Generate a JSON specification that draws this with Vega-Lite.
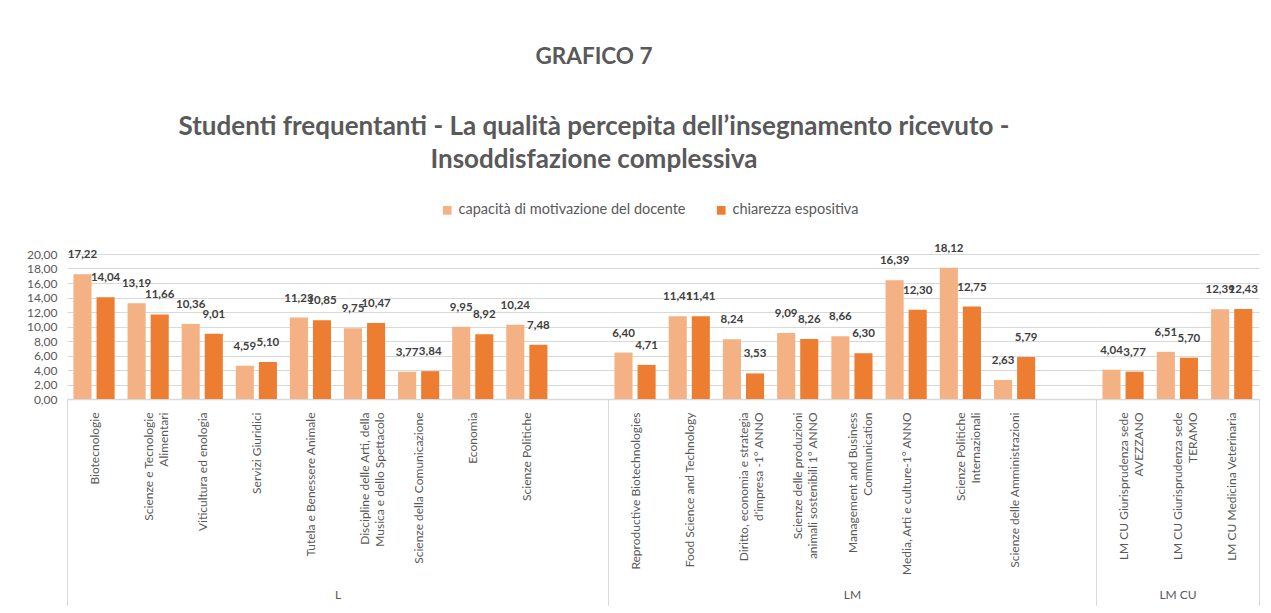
{
  "$schema": "https://vega.github.io/schema/vega-lite/v6.json",
  "background": "white",
  "padding": {"left": 26, "top": 45, "right": 10, "bottom": 5},
  "bounds": "flush",
  "spacing": 0,
  "title": {
    "text": "GRAFICO 7",
    "subtitle": ["Studenti frequentanti - La qualità percepita dell’insegnamento ricevuto -", "Insoddisfazione complessiva"],
    "font": "Lato", "fontSize": 22.5, "fontWeight": "bold", "color": "#595959",
    "subtitleFont": "Lato", "subtitleFontSize": 26, "subtitleFontWeight": "bold", "subtitleColor": "#595959",
    "subtitleLineHeight": 33, "subtitlePadding": 46,
    "anchor": "start", "align": "center", "frame": "group", "dx": 527, "offset": 30
  },
  "config": {
    "locale": {"number": {"decimal": ",", "thousands": ".", "grouping": [3], "currency": ["", " €"]}},
    "font": "Lato",
    "view": {"stroke": null},
    "legend": {
      "orient": "none", "legendX": 373, "legendY": -51, "direction": "horizontal",
      "labelFont": "Lato", "labelFontSize": 14.5, "labelColor": "#595959", "labelLimit": 400,
      "symbolType": "square", "symbolSize": 75, "symbolStrokeWidth": 0,
      "columnPadding": 28, "labelOffset": 4, "padding": 0
    }
  },
  "datasets": {
    "rows": [
      {"group": "L", "cat": "Biotecnologie", "series": "capacità di motivazione del docente", "value": 17.22},
      {"group": "L", "cat": "Biotecnologie", "series": "chiarezza espositiva", "value": 14.04},
      {"group": "L", "cat": "Scienze e Tecnologie|Alimentari", "series": "capacità di motivazione del docente", "value": 13.19},
      {"group": "L", "cat": "Scienze e Tecnologie|Alimentari", "series": "chiarezza espositiva", "value": 11.66},
      {"group": "L", "cat": "Viticultura ed enologia", "series": "capacità di motivazione del docente", "value": 10.36},
      {"group": "L", "cat": "Viticultura ed enologia", "series": "chiarezza espositiva", "value": 9.01},
      {"group": "L", "cat": "Servizi  Giuridici", "series": "capacità di motivazione del docente", "value": 4.59},
      {"group": "L", "cat": "Servizi  Giuridici", "series": "chiarezza espositiva", "value": 5.10},
      {"group": "L", "cat": "Tutela e Benessere Animale", "series": "capacità di motivazione del docente", "value": 11.23},
      {"group": "L", "cat": "Tutela e Benessere Animale", "series": "chiarezza espositiva", "value": 10.85},
      {"group": "L", "cat": "Discipline delle Arti, della|Musica e dello Spettacolo", "series": "capacità di motivazione del docente", "value": 9.75},
      {"group": "L", "cat": "Discipline delle Arti, della|Musica e dello Spettacolo", "series": "chiarezza espositiva", "value": 10.47},
      {"group": "L", "cat": "Scienze della Comunicazione", "series": "capacità di motivazione del docente", "value": 3.77},
      {"group": "L", "cat": "Scienze della Comunicazione", "series": "chiarezza espositiva", "value": 3.84},
      {"group": "L", "cat": "Economia", "series": "capacità di motivazione del docente", "value": 9.95},
      {"group": "L", "cat": "Economia", "series": "chiarezza espositiva", "value": 8.92},
      {"group": "L", "cat": "Scienze Politiche", "series": "capacità di motivazione del docente", "value": 10.24},
      {"group": "L", "cat": "Scienze Politiche", "series": "chiarezza espositiva", "value": 7.48},
      {"group": "LM", "cat": "Reproductive Biotechnologies", "series": "capacità di motivazione del docente", "value": 6.40},
      {"group": "LM", "cat": "Reproductive Biotechnologies", "series": "chiarezza espositiva", "value": 4.71},
      {"group": "LM", "cat": "Food Science and Technology", "series": "capacità di motivazione del docente", "value": 11.41},
      {"group": "LM", "cat": "Food Science and Technology", "series": "chiarezza espositiva", "value": 11.41},
      {"group": "LM", "cat": "Diritto, economia e strategia|d'impresa -1° ANNO", "series": "capacità di motivazione del docente", "value": 8.24},
      {"group": "LM", "cat": "Diritto, economia e strategia|d'impresa -1° ANNO", "series": "chiarezza espositiva", "value": 3.53},
      {"group": "LM", "cat": "Scienze delle produzioni|animali sostenibili 1° ANNO", "series": "capacità di motivazione del docente", "value": 9.09},
      {"group": "LM", "cat": "Scienze delle produzioni|animali sostenibili 1° ANNO", "series": "chiarezza espositiva", "value": 8.26},
      {"group": "LM", "cat": "Management and Business|Communication", "series": "capacità di motivazione del docente", "value": 8.66},
      {"group": "LM", "cat": "Management and Business|Communication", "series": "chiarezza espositiva", "value": 6.30},
      {"group": "LM", "cat": "Media, Arti e culture-1° ANNO", "series": "capacità di motivazione del docente", "value": 16.39},
      {"group": "LM", "cat": "Media, Arti e culture-1° ANNO", "series": "chiarezza espositiva", "value": 12.30},
      {"group": "LM", "cat": "Scienze Politiche|Internazionali", "series": "capacità di motivazione del docente", "value": 18.12},
      {"group": "LM", "cat": "Scienze Politiche|Internazionali", "series": "chiarezza espositiva", "value": 12.75},
      {"group": "LM", "cat": "Scienze delle Amministrazioni", "series": "capacità di motivazione del docente", "value": 2.63},
      {"group": "LM", "cat": "Scienze delle Amministrazioni", "series": "chiarezza espositiva", "value": 5.79},
      {"group": "LM CU", "cat": "LM CU  Giurisprudenza sede|AVEZZANO", "series": "capacità di motivazione del docente", "value": 4.04},
      {"group": "LM CU", "cat": "LM CU  Giurisprudenza sede|AVEZZANO", "series": "chiarezza espositiva", "value": 3.77},
      {"group": "LM CU", "cat": "LM CU Giurisprudenza  sede|TERAMO", "series": "capacità di motivazione del docente", "value": 6.51},
      {"group": "LM CU", "cat": "LM CU Giurisprudenza  sede|TERAMO", "series": "chiarezza espositiva", "value": 5.70},
      {"group": "LM CU", "cat": "LM CU Medicina Veterinaria", "series": "capacità di motivazione del docente", "value": 12.39},
      {"group": "LM CU", "cat": "LM CU Medicina Veterinaria", "series": "chiarezza espositiva", "value": 12.43}
    ]
  },
  "resolve": {"scale": {"color": "shared"}, "legend": {"color": "shared"}},
  "hconcat": [
    {
      "width": 541, "height": 145,
      "data": {"name": "rows"},
      "transform": [{"filter": "datum.group === 'L'"}],
      "encoding": {
        "x": {
          "field": "cat", "type": "nominal",
          "scale": {"domain": ["Biotecnologie", "Scienze e Tecnologie|Alimentari", "Viticultura ed enologia", "Servizi  Giuridici", "Tutela e Benessere Animale", "Discipline delle Arti, della|Musica e dello Spettacolo", "Scienze della Comunicazione", "Economia", "Scienze Politiche", " "], "paddingInner": 0, "paddingOuter": 0},
          "axis": {
            "title": "L", "titleY": 195, "titleBaseline": "middle", "titleFont": "Lato", "titleFontSize": 12, "titleFontWeight": "normal", "titleColor": "#595959",
            "labelAngle": -90, "labelExpr": "split(datum.label, '|')", "labelFont": "Lato", "labelFontSize": 12, "labelColor": "#595959", "labelLineHeight": 15, "labelPadding": -193, "labelLimit": 300,
            "domainColor": "#d9d9d9", "domainWidth": 1.5,
            "ticks": true, "tickBand": "extent", "tickSize": 206, "tickColor": "#d9d9d9", "tickWidth": 1,
            "tickOpacity": {"condition": {"test": "datum.index === -1 || datum.index === 1", "value": 1}, "value": 0}
          }
        },
        "xOffset": {"field": "series", "type": "nominal", "sort": ["capacità di motivazione del docente", "chiarezza espositiva"], "scale": {"paddingInner": 0.217, "paddingOuter": 0.28}},
        "y": {
          "field": "value", "type": "quantitative",
          "scale": {"domain": [0, 20]},
          "axis": {"title": null, "values": [0, 2, 4, 6, 8, 10, 12, 14, 16, 18, 20], "format": ".2f", "grid": true, "gridColor": "#d9d9d9", "gridWidth": 1, "domain": false, "ticks": false, "labelFont": "Lato", "labelFontSize": 12, "labelColor": "#595959", "labelPadding": 10}
        }
      },
      "layer": [
        {"mark": {"type": "bar"}, "encoding": {"color": {"field": "series", "type": "nominal", "scale": {"domain": ["capacità di motivazione del docente", "chiarezza espositiva"], "range": ["#F4B183", "#ED7D31"]}, "legend": {"title": null}}}},
        {"mark": {"type": "text", "dy": -19, "baseline": "middle", "font": "Lato", "fontWeight": "bold", "fontSize": 11.5, "color": "#404040"}, "encoding": {"text": {"field": "value", "type": "quantitative", "format": ".2f"}}}
      ]
    },
    {
      "width": 488, "height": 145,
      "data": {"name": "rows"},
      "transform": [{"filter": "datum.group === 'LM'"}],
      "encoding": {
        "x": {
          "field": "cat", "type": "nominal",
          "scale": {"domain": ["Reproductive Biotechnologies", "Food Science and Technology", "Diritto, economia e strategia|d'impresa -1° ANNO", "Scienze delle produzioni|animali sostenibili 1° ANNO", "Management and Business|Communication", "Media, Arti e culture-1° ANNO", "Scienze Politiche|Internazionali", "Scienze delle Amministrazioni", " "], "paddingInner": 0, "paddingOuter": 0},
          "axis": {
            "title": "LM", "titleY": 195, "titleBaseline": "middle", "titleFont": "Lato", "titleFontSize": 12, "titleFontWeight": "normal", "titleColor": "#595959",
            "labelAngle": -90, "labelExpr": "split(datum.label, '|')", "labelFont": "Lato", "labelFontSize": 12, "labelColor": "#595959", "labelLineHeight": 15, "labelPadding": -193, "labelLimit": 300,
            "domainColor": "#d9d9d9", "domainWidth": 1.5,
            "ticks": true, "tickBand": "extent", "tickSize": 206, "tickColor": "#d9d9d9", "tickWidth": 1,
            "tickOpacity": {"condition": {"test": "datum.index === -1 || datum.index === 1", "value": 1}, "value": 0}
          }
        },
        "xOffset": {"field": "series", "type": "nominal", "sort": ["capacità di motivazione del docente", "chiarezza espositiva"], "scale": {"paddingInner": 0.217, "paddingOuter": 0.28}},
        "y": {
          "field": "value", "type": "quantitative",
          "scale": {"domain": [0, 20]},
          "axis": {"title": null, "values": [0, 2, 4, 6, 8, 10, 12, 14, 16, 18, 20], "grid": true, "gridColor": "#d9d9d9", "gridWidth": 1, "domain": false, "ticks": false, "labels": false}
        }
      },
      "layer": [
        {"mark": {"type": "bar"}, "encoding": {"color": {"field": "series", "type": "nominal", "scale": {"domain": ["capacità di motivazione del docente", "chiarezza espositiva"], "range": ["#F4B183", "#ED7D31"]}, "legend": {"title": null}}}},
        {"mark": {"type": "text", "dy": -19, "baseline": "middle", "font": "Lato", "fontWeight": "bold", "fontSize": 11.5, "color": "#404040"}, "encoding": {"text": {"field": "value", "type": "quantitative", "format": ".2f"}}}
      ]
    },
    {
      "width": 163, "height": 145,
      "data": {"name": "rows"},
      "transform": [{"filter": "datum.group === 'LM CU'"}],
      "encoding": {
        "x": {
          "field": "cat", "type": "nominal",
          "scale": {"domain": ["LM CU  Giurisprudenza sede|AVEZZANO", "LM CU Giurisprudenza  sede|TERAMO", "LM CU Medicina Veterinaria"], "paddingInner": 0, "paddingOuter": 0},
          "axis": {
            "title": "LM CU", "titleY": 195, "titleBaseline": "middle", "titleFont": "Lato", "titleFontSize": 12, "titleFontWeight": "normal", "titleColor": "#595959",
            "labelAngle": -90, "labelExpr": "split(datum.label, '|')", "labelFont": "Lato", "labelFontSize": 12, "labelColor": "#595959", "labelLineHeight": 15, "labelPadding": -193, "labelLimit": 300,
            "domainColor": "#d9d9d9", "domainWidth": 1.5,
            "ticks": true, "tickBand": "extent", "tickSize": 206, "tickColor": "#d9d9d9", "tickWidth": 1,
            "tickOpacity": {"condition": {"test": "datum.index === -1 || datum.index === 1", "value": 1}, "value": 0}
          }
        },
        "xOffset": {"field": "series", "type": "nominal", "sort": ["capacità di motivazione del docente", "chiarezza espositiva"], "scale": {"paddingInner": 0.217, "paddingOuter": 0.28}},
        "y": {
          "field": "value", "type": "quantitative",
          "scale": {"domain": [0, 20]},
          "axis": {"title": null, "values": [0, 2, 4, 6, 8, 10, 12, 14, 16, 18, 20], "grid": true, "gridColor": "#d9d9d9", "gridWidth": 1, "domain": false, "ticks": false, "labels": false}
        }
      },
      "layer": [
        {"mark": {"type": "bar"}, "encoding": {"color": {"field": "series", "type": "nominal", "scale": {"domain": ["capacità di motivazione del docente", "chiarezza espositiva"], "range": ["#F4B183", "#ED7D31"]}, "legend": {"title": null}}}},
        {"mark": {"type": "text", "dy": -19, "baseline": "middle", "font": "Lato", "fontWeight": "bold", "fontSize": 11.5, "color": "#404040"}, "encoding": {"text": {"field": "value", "type": "quantitative", "format": ".2f"}}}
      ]
    }
  ]
}
